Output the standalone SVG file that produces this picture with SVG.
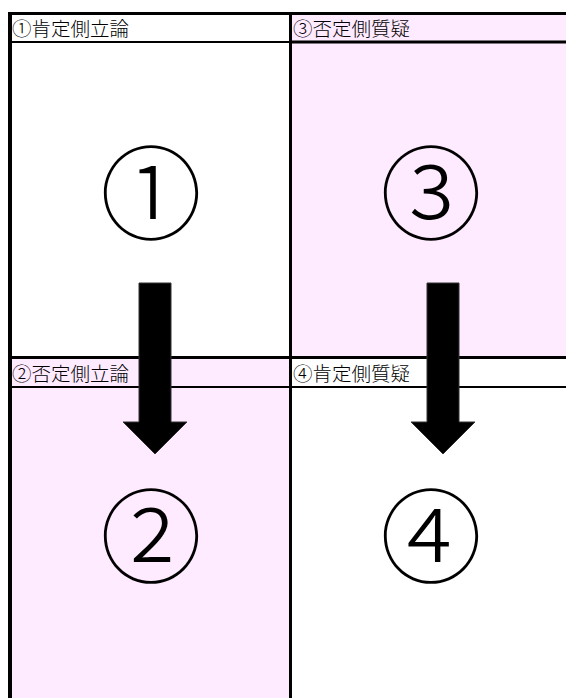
<svg xmlns="http://www.w3.org/2000/svg" width="566" height="698" viewBox="0 0 566 698">
<style>
.pink{fill:#FFEBFF}
.white{fill:#FFFFFF}
.hdr{font-family:"Noto Sans CJK JP","Noto Sans CJK SC",sans-serif;font-size:19.5px;font-weight:300;fill:#000}
.big{font-family:"Liberation Serif","Noto Sans CJK JP",serif;font-size:102px;font-weight:300;fill:#000;text-anchor:middle}
.line{stroke:#000;fill:none}
.arrow{fill:#000;stroke:#333;stroke-width:1}
</style>
<rect x="0" y="0" width="566" height="698" fill="#fff"/>
<g id="cell1">
  <rect class="white" x="10" y="13" width="280" height="345"/>
  <text class="hdr" x="12" y="35.5">①肯定側立論</text>
  <text class="big" x="151" y="232">①</text>
</g>
<g id="cell3">
  <rect class="pink" x="290" y="13" width="276" height="345"/>
  <text class="hdr" x="293" y="35.5">③否定側質疑</text>
  <text class="big" x="431" y="232">③</text>
</g>
<g id="cell2">
  <rect class="pink" x="10" y="357" width="280" height="341"/>
  <text class="hdr" x="12" y="380.5">②否定側立論</text>
  <text class="big" x="151" y="575">②</text>
</g>
<g id="cell4">
  <rect class="white" x="290" y="357" width="276" height="341"/>
  <text class="hdr" x="293" y="380.5">④肯定側質疑</text>
  <text class="big" x="431" y="575">④</text>
</g>
<g id="grid">
  <line class="line" x1="8" y1="13.5" x2="566" y2="13.5" stroke-width="3"/>
  <line class="line" x1="10" y1="12" x2="10" y2="698" stroke-width="4"/>
  <line class="line" x1="290.5" y1="12" x2="290.5" y2="698" stroke-width="3"/>
  <line class="line" x1="8" y1="357.5" x2="566" y2="357.5" stroke-width="3"/>
  <line class="line" x1="12" y1="42" x2="289" y2="42" stroke-width="2"/>
  <line class="line" x1="292" y1="42" x2="566" y2="42" stroke-width="3"/>
  <line class="line" x1="12" y1="387" x2="289" y2="387" stroke-width="2"/>
  <line class="line" x1="292" y1="387" x2="566" y2="387" stroke-width="2"/>
</g>
<g id="connectors">
  <polygon class="arrow" points="139,283 171,283 171,422 187,422 155,454 123,422 139,422"/>
  <polygon class="arrow" points="427,283 459,283 459,422 475,422 443,454 411,422 427,422"/>
</g>
</svg>
